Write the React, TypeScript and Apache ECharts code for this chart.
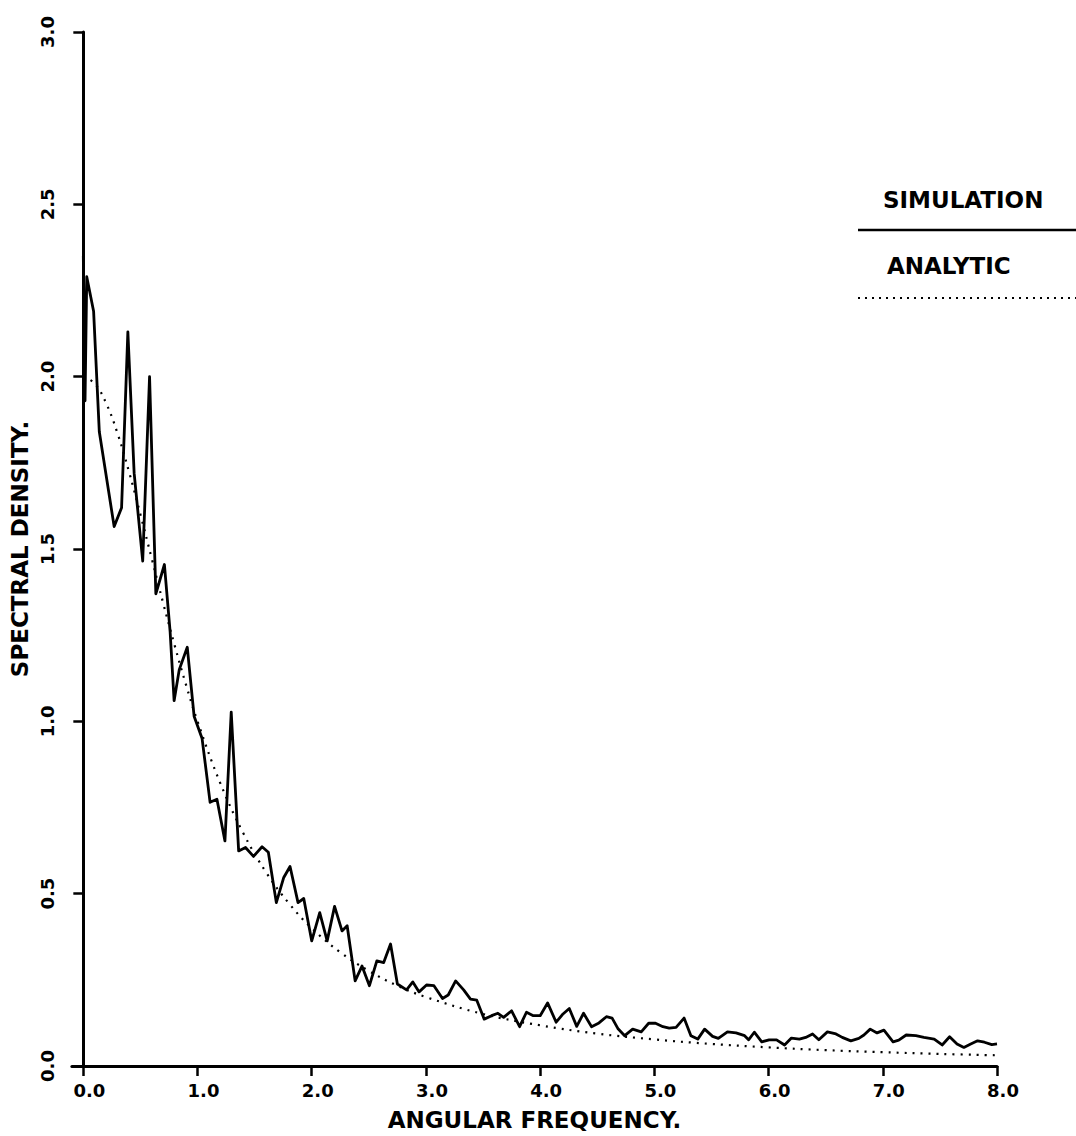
import React, { useEffect, useRef } from "react";
import * as echarts from "echarts";

// Simulation spectrum: angular frequency / spectral density
const simFreq = [
  0.0, 0.015, 0.03, 0.09, 0.14, 0.27, 0.335, 0.39, 0.445, 0.52, 0.58, 0.635, 0.71, 0.76, 0.795, 0.84,
  0.91, 0.97, 1.04, 1.11, 1.17, 1.24, 1.295, 1.36, 1.42, 1.49, 1.565, 1.62, 1.69, 1.755, 1.81, 1.88,
  1.93, 2.0, 2.07, 2.135, 2.2, 2.265, 2.31, 2.38, 2.44, 2.505, 2.57, 2.63, 2.69, 2.75, 2.83, 2.885,
  2.94, 3.005, 3.07, 3.145, 3.195, 3.26, 3.33, 3.39, 3.445, 3.51, 3.575, 3.63, 3.68, 3.75, 3.82, 3.88,
  3.94, 4.0, 4.065, 4.14, 4.2, 4.255, 4.32, 4.38, 4.45, 4.515, 4.58, 4.63, 4.68, 4.74, 4.81, 4.885,
  4.95, 5.01, 5.075, 5.13, 5.19, 5.26, 5.32, 5.38, 5.44, 5.51, 5.56, 5.64, 5.715, 5.79, 5.825, 5.875,
  5.94, 6.005, 6.07, 6.14, 6.2, 6.27, 6.325, 6.385, 6.44, 6.515, 6.59, 6.645, 6.72, 6.79, 6.835, 6.89,
  6.95, 7.01, 7.09, 7.14, 7.205, 7.29, 7.36, 7.45, 7.52, 7.585, 7.65, 7.71, 7.77, 7.83, 7.89, 7.955,
  8.0,
];
const simDensity = [
  2.35, 1.93, 2.29, 2.19, 1.84, 1.565, 1.62, 2.13, 1.72, 1.465, 2.0, 1.37, 1.455, 1.26, 1.06, 1.15,
  1.215, 1.015, 0.95, 0.765, 0.774, 0.653, 1.027, 0.624, 0.634, 0.608, 0.636, 0.62, 0.474, 0.547, 0.579, 0.474,
  0.486, 0.363, 0.445, 0.363, 0.463, 0.392, 0.407, 0.247, 0.29, 0.233, 0.305, 0.3, 0.354, 0.238, 0.221, 0.244,
  0.215, 0.235, 0.233, 0.196, 0.206, 0.247, 0.221, 0.194, 0.191, 0.136, 0.146, 0.153, 0.141, 0.16, 0.114, 0.156,
  0.146, 0.146, 0.183, 0.127, 0.151, 0.167, 0.115, 0.153, 0.114, 0.125, 0.143, 0.139, 0.109, 0.088, 0.107, 0.099,
  0.124, 0.124, 0.114, 0.11, 0.112, 0.139, 0.088, 0.078, 0.107, 0.086, 0.08, 0.099, 0.096, 0.088, 0.076, 0.098,
  0.07, 0.076, 0.076, 0.061, 0.081, 0.078, 0.083, 0.093, 0.076, 0.099, 0.093, 0.083, 0.073, 0.08, 0.09, 0.107,
  0.096, 0.104, 0.07, 0.075, 0.09, 0.088, 0.083, 0.078, 0.061, 0.085, 0.064, 0.054, 0.064, 0.073, 0.069, 0.062,
  0.064,
];

// Analytic spectrum (dotted curve)
const anaFreq = [
  0.0, 0.1, 0.2, 0.3, 0.4, 0.5, 0.6, 0.7, 0.8, 0.9, 1.0, 1.2, 1.4, 1.6, 1.8, 2.0, 2.25, 2.5, 2.75, 3.0,
  3.5, 4.0, 4.5, 5.0, 5.5, 6.0, 6.5, 7.0, 7.5, 8.0,
];
const anaDensity = [
  2.0, 1.98, 1.923, 1.835, 1.724, 1.6, 1.471, 1.342, 1.22, 1.105, 1.0, 0.82, 0.676, 0.562, 0.472, 0.4,
  0.33, 0.276, 0.233, 0.2, 0.151, 0.118, 0.094, 0.077, 0.064, 0.054, 0.046, 0.04, 0.035, 0.031,
];

const xTickValues = [0, 1, 2, 3, 4, 5, 6, 7, 8];
const seriesNames = ["SIMULATION", "ANALYTIC"];
const xAxisTitle = "ANGULAR FREQUENCY.";
const yAxisTitle = "SPECTRAL DENSITY.";

const FONT = "'DejaVu Sans', 'Liberation Sans', sans-serif";

export default function App() {
  const ref = useRef<HTMLDivElement>(null);

  useEffect(() => {
    if (!ref.current) return;
    const chart = echarts.init(ref.current, null, { renderer: "svg" });
    const axisText = { fontFamily: FONT, fontWeight: "bold", color: "#000" };
    const option = {
      animation: false,
      backgroundColor: "#ffffff",
      grid: { left: 68, right: 79, top: 32, bottom: 69, containLabel: false },
      xAxis: {
        type: "value",
        min: -0.1,
        max: 8,
        name: xAxisTitle,
        nameLocation: "middle",
        nameGap: 42,
        nameTextStyle: { ...axisText, fontSize: 23 },
        axisLine: { show: true, onZero: false, lineStyle: { color: "#000", width: 3 } },
        axisTick: {
          show: true,
          customValues: xTickValues,
          length: 10,
          inside: false,
          lineStyle: { color: "#000", width: 2.5 },
        },
        axisLabel: {
          customValues: xTickValues,
          formatter: (v: number) => v.toFixed(1),
          margin: 15,
          fontSize: 18,
          padding: [0, 0, 0, 12],
          ...axisText,
        },
        splitLine: { show: false },
      },
      yAxis: {
        type: "value",
        min: 0,
        max: 3,
        interval: 0.5,
        name: yAxisTitle,
        nameLocation: "middle",
        nameGap: 40,
        nameTextStyle: { ...axisText, fontSize: 23 },
        axisLine: { show: true, onZero: true, lineStyle: { color: "#000", width: 3 } },
        axisTick: { show: true, length: 10, inside: false, lineStyle: { color: "#000", width: 2.5 } },
        axisLabel: {
          rotate: 90,
          formatter: (v: number) => v.toFixed(1),
          margin: 15,
          fontSize: 18,
          ...axisText,
        },
        splitLine: { show: false },
      },
      series: [
        {
          name: seriesNames[0],
          type: "line",
          data: simFreq.map((f, i) => [f, simDensity[i]]),
          symbol: "none",
          showSymbol: false,
          lineStyle: { color: "#000", width: 2.8, join: "round" },
          z: 3,
        },
        {
          name: seriesNames[1],
          type: "line",
          data: anaFreq.map((f, i) => [f, anaDensity[i]]),
          symbol: "none",
          showSymbol: false,
          smooth: 0.4,
          lineStyle: { color: "#000", width: 2.2, type: [2, 6] },
          z: 2,
        },
      ],
      graphic: [
        {
          type: "text",
          x: 883,
          y: 200,
          style: {
            text: seriesNames[0],
            fontFamily: FONT,
            fontWeight: "bold",
            fontSize: 23,
            fill: "#000",
            align: "left",
            verticalAlign: "middle",
          },
        },
        {
          type: "line",
          shape: { x1: 858, y1: 230, x2: 1076, y2: 230 },
          style: { stroke: "#000", lineWidth: 2.5 },
        },
        {
          type: "text",
          x: 887,
          y: 266,
          style: {
            text: seriesNames[1],
            fontFamily: FONT,
            fontWeight: "bold",
            fontSize: 23,
            fill: "#000",
            align: "left",
            verticalAlign: "middle",
          },
        },
        {
          type: "line",
          shape: { x1: 858, y1: 298, x2: 1076, y2: 298 },
          style: { stroke: "#000", lineWidth: 2, lineDash: [2, 5] },
        },
      ],
    };
    chart.setOption(option as any);
    return () => {
      chart.dispose();
    };
  }, []);

  return (
    <div
      ref={ref}
      style={{ position: "fixed", left: 0, top: 0, width: 1076, height: 1136, background: "#fff" }}
    />
  );
}
